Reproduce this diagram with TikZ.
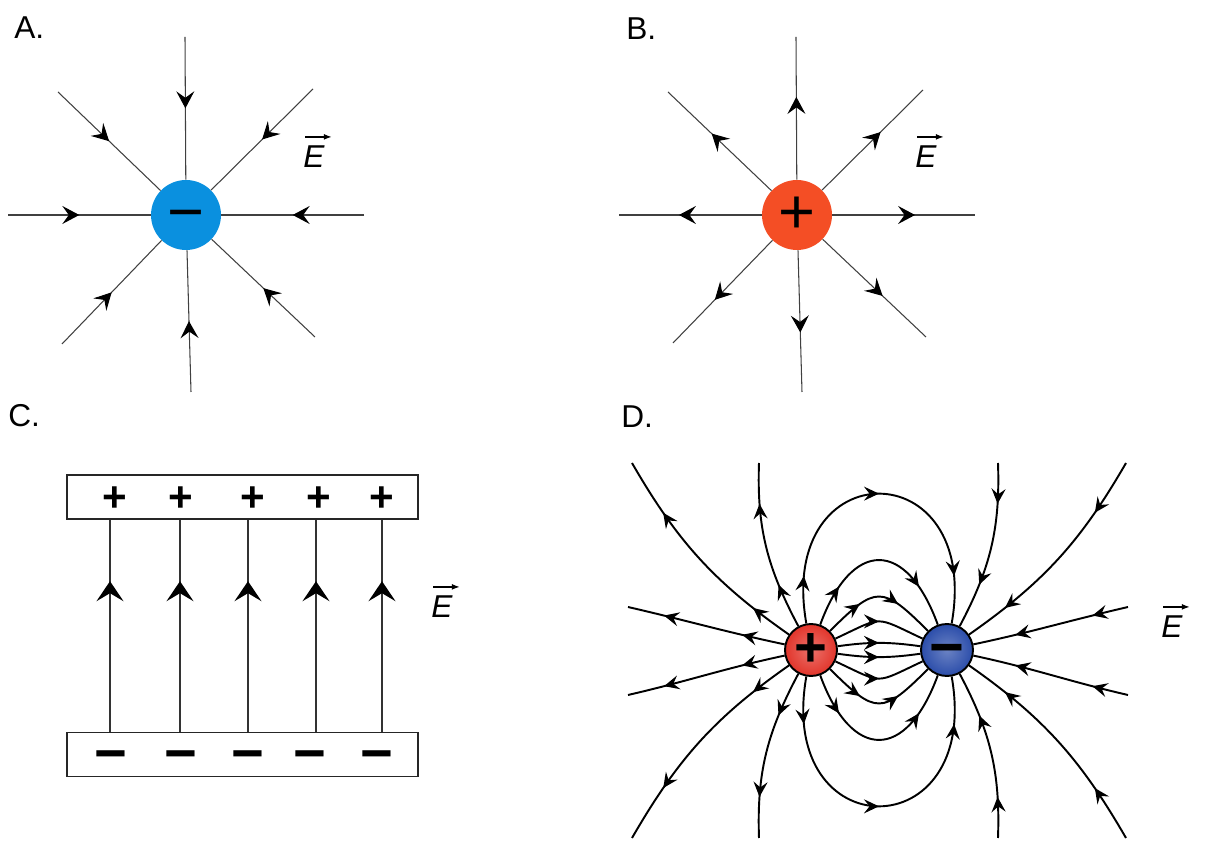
\documentclass[tikz,border=0pt]{standalone}
\usepackage{fontspec}
\setmainfont{Liberation Sans}
\usetikzlibrary{arrows.meta,decorations.markings}

\definecolor{negblue}{HTML}{0A90DF}
\definecolor{posred}{HTML}{F44E25}
\definecolor{dipred}{HTML}{E2352B}
\definecolor{dipblue}{HTML}{2B4DAA}

\tikzset{
  tipA/.tip={Stealth[length=3.4mm,width=3.6mm,inset=1.3mm]},
  tipC/.tip={Stealth[length=4mm,width=5.4mm,inset=1.6mm]},
  tipD/.tip={Stealth[length=3mm,width=2.8mm,inset=1.1mm]},
}

\begin{document}
\begin{tikzpicture}[x=0.02cm,y=0.02cm,
  lbl/.style={anchor=base west, inner sep=0pt, font=\fontsize{18}{20}\selectfont},
  evec/.style={anchor=base west, inner sep=0pt, font=\fontsize{18}{20}\selectfont\itshape},
  vecarrow/.style={line width=0.8pt, -{Latex[length=1.6mm,width=1.2mm]}},
  radial/.style={line width=0.6pt, draw=black!75},
  fieldC/.style={line width=0.8pt, draw=black!80},
  fieldD/.style={line width=1.1pt},
  markA/.style={postaction={decorate,decoration={markings,mark=at position #1 with {\arrow[black]{tipA}}}}},
  markC/.style={postaction={decorate,decoration={markings,mark=at position #1 with {\arrow[black]{tipC}}}}},
  markD/.style={postaction={decorate,decoration={markings,mark=at position #1 with {\arrow{tipD}}}}},
  marksD/.style={markD/.list={#1}},
  chargeAB/.style={circle, minimum size=1.4cm, inner sep=0pt, font=\fontsize{36}{36}\selectfont},
  chargeD/.style={circle, draw=black, line width=1.1pt, minimum size=1.04cm, inner sep=0pt,
    shading=radial, font=\bfseries\fontsize{32}{32}\selectfont},
  plate/.style={draw=black!85, line width=0.8pt, minimum width=7.02cm, minimum height=0.88cm, inner sep=0pt},
  signC/.style={inner sep=0pt, font=\bfseries\fontsize{24}{24}\selectfont},
]
\useasboundingbox (0,0) rectangle (1215,852);

% A: negative charge
\node[lbl] (labA) at (14,813) {A.};
\node[chargeAB, fill=negblue] (qA) at (186,637) {\vphantom{+}−};
\foreach \n/\x/\y in {a1/185/815, a2/58/760, a3/313/763, a4/8/637,
                      a5/364/637, a6/62/508, a7/191/460, a8/315/515}{
  \coordinate (\n) at (\x,\y);
  \draw[radial, markA=0.5] (\n) -- (qA);
}

% B: positive charge
\node[lbl] (labB) at (626,812) {B.};
\node[chargeAB, fill=posred] (qB) at (797,637) {+};
\foreach \n/\x/\y in {b1/796/815, b2/668/760, b3/923/762, b4/619/637,
                      b5/975/637, b6/673/509, b7/802/460, b8/926/515}{
  \coordinate (\n) at (\x,\y);
  \draw[radial, markA=0.58] (qB) -- (\n);
}

% C: plates
\node[lbl] (labC) at (8,425) {C.};
\node[plate] (topP) at (242.5,355) {};
\node[plate] (botP) at (242.5,97.5) {};
\foreach \x in {110,180,248,316,382}
  \draw[fieldC, markC=0.71] (botP.north -| \x,0) -- (topP.south -| \x,0);
\foreach \x in {115,181,253,319,382}
  \node[signC] (pc\x) at (\x,353) {+};
\foreach \x in {111,181,248,310,377}
  \node[signC, font=\bfseries\fontsize{32}{32}\selectfont] (nc\x) at (\x,96) {\vphantom{+}−};

% D: dipole
\node[lbl] (labD) at (621,424) {D.};
\node[chargeD, inner color=dipred!70!white, outer color=dipred] (qP) at (811,202) {+};
\node[chargeD, inner color=dipblue!70!white, outer color=dipblue,
  font=\bfseries\fontsize{34}{34}\selectfont] (qN) at (947,202) {\vphantom{+}−};

% lines leaving the positive charge
\coordinate (p1) at (632,389);
\coordinate (p2) at (759,389);
\coordinate (p3) at (628,245);
\coordinate (p4) at (628,157);
\coordinate (p5) at (632,14);
\coordinate (p6) at (759,14);
\draw[fieldD, marksD={0.19,0.75}] (qP) to[out=145,in=-60] (p1);
\draw[fieldD, marksD={0.27,0.76}] (qP) to[out=118,in=-92] (p2);
\draw[fieldD, marksD={0.27,0.77}] (qP) to[out=168,in=-13] (p3);
\draw[fieldD, marksD={0.27,0.77}] (qP) to[out=-168,in=13] (p4);
\draw[fieldD, marksD={0.19,0.75}] (qP) to[out=-145,in=60] (p5);
\draw[fieldD, marksD={0.27,0.76}] (qP) to[out=-118,in=92] (p6);

% lines entering the negative charge
\coordinate (n1) at (1126,389);
\coordinate (n2) at (998,389);
\coordinate (n3) at (1128,245);
\coordinate (n4) at (1128,157);
\coordinate (n5) at (1126,14);
\coordinate (n6) at (998,14);
\draw[fieldD, marksD={0.25,0.81}] (n1) to[out=-120,in=35] (qN);
\draw[fieldD, marksD={0.24,0.73}] (n2) to[out=-88,in=62] (qN);
\draw[fieldD, marksD={0.23,0.73}] (n3) to[out=-167,in=12] (qN);
\draw[fieldD, marksD={0.23,0.73}] (n4) to[out=167,in=-12] (qN);
\draw[fieldD, marksD={0.25,0.81}] (n5) to[out=120,in=-35] (qN);
\draw[fieldD, marksD={0.24,0.73}] (n6) to[out=88,in=-62] (qN);

% lines from + to -
\draw[fieldD, marksD={0.14,0.5,0.86}] (qP) to[out=100,in=80,looseness=3.1] (qN);
\draw[fieldD, marksD={0.23,0.77}] (qP) to[out=70,in=110,looseness=2] (qN);
\draw[fieldD, marksD={0.33,0.67}] (qP) to[out=45,in=135,looseness=1.7] (qN);
\draw[fieldD, markD=0.5] (qP) to[out=25,in=155,looseness=1.6] (qN);
\draw[fieldD, markD=0.5] (qP) to[out=8,in=172] (qN);
\draw[fieldD, markD=0.5] (qP) to[out=-8,in=-172] (qN);
\draw[fieldD, markD=0.5] (qP) to[out=-25,in=-155,looseness=1.6] (qN);
\draw[fieldD, marksD={0.33,0.67}] (qP) to[out=-45,in=-135,looseness=1.7] (qN);
\draw[fieldD, marksD={0.23,0.77}] (qP) to[out=-70,in=-110,looseness=2] (qN);
\draw[fieldD, marksD={0.14,0.5,0.86}] (qP) to[out=-100,in=-80,looseness=3.1] (qN);

% field symbols
\foreach \n/\x/\y in {eA/303/684, eB/915/684, eC/431/234, eD/1161/214}{
  \node[evec] (\n) at (\x,\y) {E};
  \draw[vecarrow] ([shift={(2,9)}]\n.north west) -- ([shift={(7,9)}]\n.north east);
}
\end{tikzpicture}
\end{document}
